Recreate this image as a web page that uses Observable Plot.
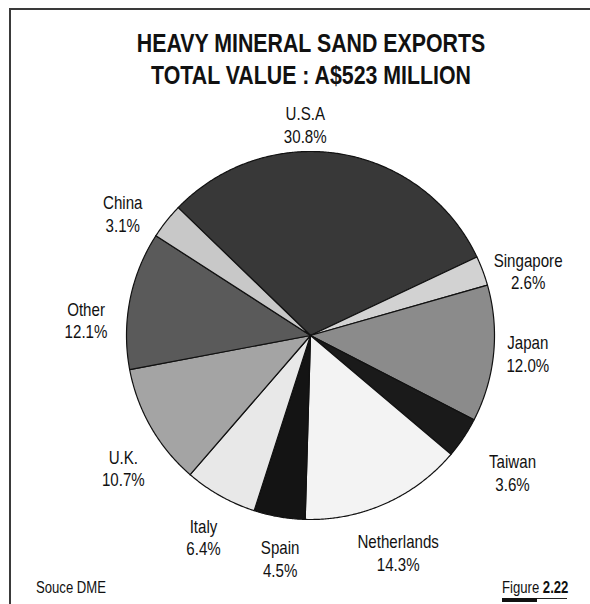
<!DOCTYPE html>
<html>
<head>
<meta charset="utf-8">
<script src="https://cdn.jsdelivr.net/npm/d3@7"></script>
<script src="https://cdn.jsdelivr.net/npm/@observablehq/plot@0.6"></script>
<style>
  html, body { margin: 0; padding: 0; background: #fff; }
  #page { position: relative; width: 590px; height: 604px; overflow: hidden; background: #fff; color: #111; }
  #frame-left { position: absolute; left: 9px; top: 8px; width: 2px; height: 596px; background: #3a3a3a; }
  #frame-top { position: absolute; left: 9px; top: 8px; width: 581px; height: 2px; background: #3a3a3a; }
  #title { position: absolute; left: 16px; top: 27px; width: 590px; text-align: center;
           font-weight: bold; font-size: 26px; line-height: 32px; white-space: nowrap; }
  #title div { display: block; }
  #chart { position: absolute; left: 0; top: 95px; }
  .foot { position: absolute; font-size: 16px; line-height: 20px; white-space: nowrap; }
  #source { left: 36px; top: 578px; }
  #figure { left: 502px; top: 578px; }
  #figbar { position: absolute; left: 502px; top: 598px; width: 65px; height: 1px; background: #222; }
  #figbar2 { position: absolute; left: 502px; top: 598px; width: 35px; height: 4px; background: #111; }
</style>
</head>
<body>
<div id="page">
  <div id="frame-left"></div>
  <div id="frame-top"></div>
  <div id="title"><div class="tl">HEAVY MINERAL SAND EXPORTS</div><div class="tl">TOTAL VALUE : A$523 MILLION</div></div>
  <div id="chart"></div>
  <div class="foot" id="source">Souce DME</div>
  <div class="foot" id="figure">Figure <b>2.22</b></div>
  <div id="figbar"></div>
  <div id="figbar2"></div>
</div>
<script>
// ---- data ----
const countries = ["U.S.A", "Singapore", "Japan", "Taiwan", "Netherlands", "Spain", "Italy", "U.K.", "Other", "China"];
const shares = [30.8, 2.6, 12.0, 3.6, 14.3, 4.5, 6.4, 10.7, 12.1, 3.1];
const shareLabels = ["30.8%", "2.6%", "12.0%", "3.6%", "14.3%", "4.5%", "6.4%", "10.7%", "12.1%", "3.1%"];
const sliceColors = ["#383838", "#d2d2d2", "#8b8b8b", "#1a1a1a", "#f3f3f3", "#141414", "#e8e8e8", "#a4a4a4", "#5a5a5a", "#c8c8c8"];
// label placement tweaks: [angle nudge in degrees, radius factor]
const labelNudge = [[-10.8, 1.147], [3.95, 1.234], [-1.0, 1.185], [0.35, 1.326], [2.06, 1.272],
                    [-2.0, 1.223], [-1.35, 1.239], [-5.3, 1.245], [-7.1, 1.223], [-5.4, 1.217]];

// ---- font choice ----
function hasFont(name) {
  const c = document.createElement("canvas").getContext("2d");
  const s = "abcdefghijklmnopqrstuvwxyzABCDEFGHIJ";
  c.font = "40px monospace";
  const w0 = c.measureText(s).width;
  c.font = `40px "${name}", monospace`;
  return c.measureText(s).width !== w0;
}
const narrow = hasFont("Liberation Sans Narrow");
const fam = narrow ? '"Liberation Sans Narrow", "Liberation Sans", Arial, sans-serif' : '"Liberation Sans", Arial, sans-serif';
document.getElementById("page").style.fontFamily = fam;
if (!narrow) {
  document.querySelectorAll("#title .tl, .foot").forEach(el => {
    el.style.transform = "scaleX(0.82)";
    el.style.transformOrigin = el.classList.contains("tl") ? "center" : "left";
  });
}

// ---- geometry from data ----
const startDeg = -46;
const total = d3.sum(shares);
const slices = [];
const polys = [];
let cum = 0;
countries.forEach((name, i) => {
  const a0 = (startDeg + cum / total * 360) * Math.PI / 180;
  cum += shares[i];
  const a1 = (startDeg + cum / total * 360) * Math.PI / 180;
  slices.push({name, a0, a1, i});
  polys.push({name, x: 0, y: 0});
  const n = Math.max(4, Math.ceil((a1 - a0) / (0.4 * Math.PI / 180)));
  for (let k = 0; k <= n; k++) {
    const a = a0 + (a1 - a0) * k / n;
    polys.push({name, x: Math.sin(a), y: Math.cos(a)});
  }
});
const labels = slices.map(s => {
  const [da, rf] = labelNudge[s.i];
  const a = (s.a0 + s.a1) / 2 + da * Math.PI / 180;
  return {name: s.name, x: rf * Math.sin(a), y: rf * Math.cos(a), text: s.name + "\n" + shareLabels[s.i]};
});

// ---- plot ----
const W = 590, H = 490, R = 184, CX = 310, CY = 240;
const chart = Plot.plot({
  width: W, height: H,
  margin: 0,
  style: {background: "transparent", fontFamily: fam, color: "#111", overflow: "visible"},
  x: {domain: [-CX / R, (W - CX) / R], range: [0, W], axis: null},
  y: {domain: [-(H - CY) / R, CY / R], range: [H, 0], axis: null},
  color: {domain: countries, range: sliceColors},
  marks: [
    Plot.line(polys, {x: "x", y: "y", z: "name", fill: "name", stroke: "#111", strokeWidth: 1.2,
                      curve: "linear-closed", strokeLinejoin: "round"}),
    Plot.text(labels, {x: "x", y: "y", text: "text", fontSize: 18, lineHeight: 1.25,
                       textAnchor: "middle", lineAnchor: "middle", fill: "#111"})
  ]
});
document.getElementById("chart").appendChild(chart);

if (!narrow) {
  chart.querySelectorAll("text").forEach(t => {
    const tr = t.getAttribute("transform");
    if (tr) t.setAttribute("transform", tr + " scale(0.84,1)");
    else {
      const x = t.getAttribute("x") || 0, y = t.getAttribute("y") || 0;
      t.setAttribute("x", 0); t.setAttribute("y", 0);
      t.setAttribute("transform", `translate(${x},${y}) scale(0.84,1)`);
    }
  });
}
</script>
</body>
</html>
